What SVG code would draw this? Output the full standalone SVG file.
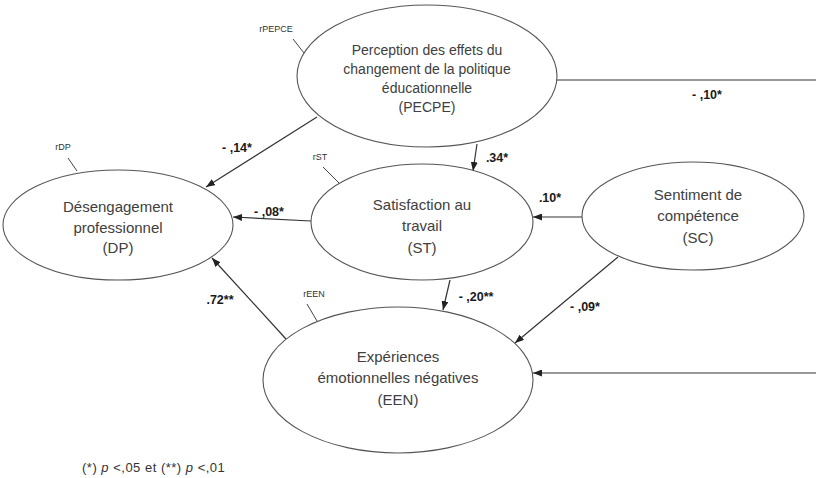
<svg xmlns="http://www.w3.org/2000/svg" width="816" height="478" viewBox="0 0 816 478">
<defs>
<marker id="ah" markerUnits="userSpaceOnUse" markerWidth="9" markerHeight="7" refX="9" refY="3.5" orient="auto">
<path d="M0,0 L9,3.5 L0,7 z" fill="#222"/>
</marker>
<style>
.el{fill:#fff;stroke:#555;stroke-width:1.1}
.nt{font-family:"Liberation Sans",Arial,sans-serif;font-size:15px;fill:#404040;text-anchor:middle}
.nt2{font-family:"Liberation Sans",Arial,sans-serif;font-size:14px;fill:#404040;text-anchor:middle}
.res{font-family:"Liberation Sans",Arial,sans-serif;font-size:9px;fill:#333;text-anchor:middle}
.tick{stroke:#444;stroke-width:1;fill:none}
.cn{stroke:#333;stroke-width:1.2;fill:none}
.arr{marker-end:url(#ah)}
.lb{font-family:"Liberation Sans",Arial,sans-serif;font-size:12.5px;font-weight:bold;fill:#1a1a1a;text-anchor:middle}
.fn{font-family:"Liberation Sans",Arial,sans-serif;font-size:13px;fill:#333;letter-spacing:0.5px}
</style>
</defs>
<rect width="816" height="478" fill="#fff"/>

<g id="connectors">
<path class="cn arr" d="M317,117 L206,187"/>
<path class="cn arr" d="M311,221 L233,217"/>
<path class="cn arr" d="M477,144 L473,171"/>
<path class="cn arr" d="M582,217 L533,217"/>
<path class="cn arr" d="M450,280 L443,310"/>
<path class="cn arr" d="M618,257 L515,343"/>
<path class="cn arr" d="M286,339 L212,258"/>
<path class="cn arr" d="M556,80 H816 M816,373 H533"/>
<text class="lb" x="237" y="152">- ,14*</text>
<text class="lb" x="269" y="216">- ,08*</text>
<text class="lb" x="497" y="162">.34*</text>
<text class="lb" x="550" y="202">.10*</text>
<text class="lb" x="476" y="301">- ,20**</text>
<text class="lb" x="585" y="311">- ,09*</text>
<text class="lb" x="220" y="304">.72**</text>
<text class="lb" x="707" y="99">- ,10*</text>
</g>

<g id="PECPE">
<path class="tick" d="M293,39 L304,53"/>
<text class="res" x="276" y="32">rPEPCE</text>
<ellipse class="el" cx="427" cy="76" rx="130" ry="71"/>
<text class="nt2" x="427" y="55">Perception des effets du</text>
<text class="nt2" x="427" y="74">changement de la politique</text>
<text class="nt2" x="427" y="93">éducationnelle</text>
<text class="nt2" x="427" y="112">(PECPE)</text>
</g>

<g id="DP">
<path class="tick" d="M68,158 L77,171"/>
<text class="res" x="63" y="150">rDP</text>
<ellipse class="el" cx="118" cy="225" rx="115" ry="55"/>
<text class="nt" x="118" y="212">Désengagement</text>
<text class="nt" x="118" y="233">professionnel</text>
<text class="nt" x="118" y="253">(DP)</text>
</g>

<g id="ST">
<path class="tick" d="M323,167 L339,183"/>
<text class="res" x="320" y="160">rST</text>
<ellipse class="el" cx="422" cy="222" rx="111" ry="58"/>
<text class="nt" x="422" y="210">Satisfaction au</text>
<text class="nt" x="422" y="231">travail</text>
<text class="nt" x="422" y="253">(ST)</text>
</g>

<g id="SC">
<ellipse class="el" cx="693" cy="216" rx="111" ry="54"/>
<text class="nt" x="698" y="200">Sentiment de</text>
<text class="nt" x="698" y="221">compétence</text>
<text class="nt" x="698" y="243">(SC)</text>
</g>

<g id="EEN">
<path class="tick" d="M307,304 L317,321"/>
<text class="res" x="314" y="297">rEEN</text>
<ellipse class="el" cx="398" cy="380" rx="135" ry="73"/>
<text class="nt" x="398" y="362">Expériences</text>
<text class="nt" x="398" y="383">émotionnelles négatives</text>
<text class="nt" x="398" y="405">(EEN)</text>
</g>

<text class="fn" x="82" y="472">(*) <tspan font-style="italic">p</tspan> &lt;,05 et (**) <tspan font-style="italic">p</tspan> &lt;,01</text>
</svg>
